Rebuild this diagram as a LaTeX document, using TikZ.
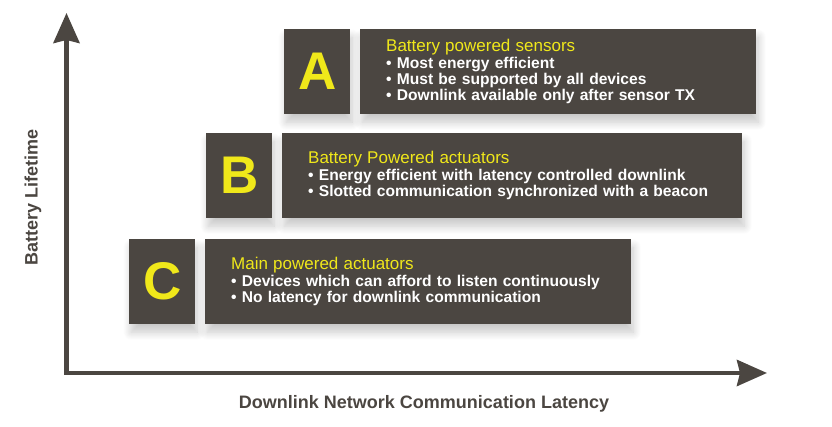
\documentclass[tikz,border=0pt]{standalone}
\usepackage{fontspec}
\setmainfont{Liberation Sans}
\usepackage{xcolor}
\usetikzlibrary{arrows.meta,shadows.blur}
\definecolor{boxgrey}{RGB}{75,70,65}
\definecolor{tagyellow}{RGB}{240,232,26}
\newcommand{\hd}[1]{\mbox{\color{tagyellow}\fontsize{17}{16.3}\selectfont\mdseries #1}}
\newcommand{\bul}[1]{\mbox{\textbullet\ #1}}

\begin{document}
\begin{tikzpicture}[line cap=butt,line join=miter,x=1pt,y=1pt,
  letterbox/.style={fill=boxgrey,text=tagyellow,anchor=north west,inner sep=0pt,
    minimum width=66,minimum height=85,font=\fontsize{53}{53}\selectfont\bfseries,
    blur shadow={shadow xshift=2pt,shadow yshift=-8pt,shadow blur steps=12,shadow blur radius=8pt,shadow opacity=22}},
  infobox/.style={fill=boxgrey,text=white,anchor=north west,inner xsep=26pt,inner ysep=0pt,
    minimum height=85,align=left,font=\fontsize{15.6}{16.3}\selectfont\bfseries,
    blur shadow={shadow xshift=2pt,shadow yshift=-8pt,shadow blur steps=12,shadow blur radius=8pt,shadow opacity=22}},
  axislabel/.style={text=boxgrey,font=\fontsize{18}{18}\selectfont\bfseries}]
\useasboundingbox (0,0) rectangle (832,427);
% axes
\coordinate (ytip) at (66.5,414);
\coordinate (xtip) at (767,54);
\draw [boxgrey,line width=4.5pt,{Stealth[length=30pt,width=26pt,inset=3pt]}-{Stealth[length=30pt,width=26pt,inset=3pt]}] (ytip) |- (xtip);
\node[axislabel,rotate=90] (ylab) at (33,230) {Battery Lifetime};
\node[axislabel] (xlab) at (424,23) {Downlink Network Communication Latency};
% C
\node[letterbox] (tagC) at (129,188) {C};
\node[infobox,text width=374pt] (infoC) at (205,188) {\hd{Main powered actuators}\\
  \bul{Devices which can afford to listen continuously}\\
  \bul{No latency for downlink communication}};
% B
\node[letterbox] (tagB) at (206,294) {B};
\node[infobox,text width=408pt] (infoB) at (282,294) {\hd{Battery Powered actuators}\\
  \bul{Energy efficient with latency controlled downlink}\\
  \bul{Slotted communication synchronized with a beacon}};
% A
\node[letterbox] (tagA) at (284,398) {A};
\node[infobox,text width=344pt] (infoA) at (360,398) {\hd{Battery powered sensors}\\
  \bul{Most energy efficient}\\
  \bul{Must be supported by all devices}\\
  \bul{Downlink available only after sensor TX}};
\end{tikzpicture}
\end{document}
